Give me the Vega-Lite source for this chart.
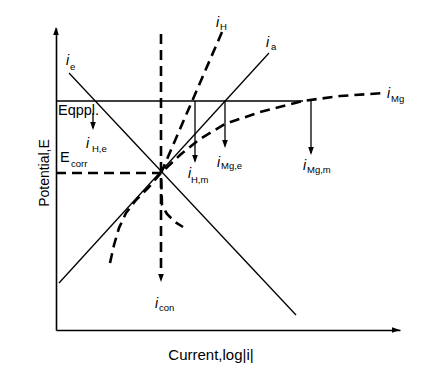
{
  "$schema": "https://vega.github.io/schema/vega-lite/v6.json",
  "width": 344,
  "height": 302,
  "autosize": {"type": "none"},
  "padding": {"left": 56, "top": 28, "right": 35, "bottom": 40},
  "background": "white",
  "config": {
    "view": {"stroke": null},
    "axis": {"grid": false, "ticks": false, "labels": false, "domainColor": "black", "domainWidth": 1.6, "titleColor": "black", "titleFont": "Liberation Sans", "titleFontWeight": "normal"}
  },
  "datasets": {
    "lines": [
      {"id": "ia", "ord": 0, "x": 3, "y": 47, "style": "solid"},
      {"id": "ia", "ord": 1, "x": 213, "y": 277, "style": "solid"},
      {"id": "ie", "ord": 0, "x": 13, "y": 257, "style": "solid"},
      {"id": "ie", "ord": 1, "x": 240, "y": 15, "style": "solid"},
      {"id": "Eappl", "ord": 0, "x": 0, "y": 229, "style": "solid"},
      {"id": "Eappl", "ord": 1, "x": 247, "y": 229, "style": "solid"},
      {"id": "aHe", "ord": 0, "x": 37, "y": 217, "style": "solid"},
      {"id": "aHe", "ord": 1, "x": 37, "y": 202, "style": "solid"},
      {"id": "aHm", "ord": 0, "x": 139, "y": 229, "style": "solid"},
      {"id": "aHm", "ord": 1, "x": 139, "y": 169, "style": "solid"},
      {"id": "aMge", "ord": 0, "x": 169, "y": 229, "style": "solid"},
      {"id": "aMge", "ord": 1, "x": 169, "y": 184, "style": "solid"},
      {"id": "aMgm", "ord": 0, "x": 255, "y": 230, "style": "solid"},
      {"id": "aMgm", "ord": 1, "x": 255, "y": 177, "style": "solid"},
      {"id": "Ecorr", "ord": 0, "x": 0, "y": 157, "style": "dashed"},
      {"id": "Ecorr", "ord": 1, "x": 105, "y": 157, "style": "dashed"},
      {"id": "icon", "ord": 0, "x": 105, "y": 296, "style": "dashed"},
      {"id": "icon", "ord": 1, "x": 105, "y": 54, "style": "dashed"},
      {"id": "iMg", "ord": 0, "x": 54, "y": 67, "style": "dashed"},
      {"id": "iMg", "ord": 1, "x": 58, "y": 85, "style": "dashed"},
      {"id": "iMg", "ord": 2, "x": 63, "y": 102, "style": "dashed"},
      {"id": "iMg", "ord": 3, "x": 70, "y": 117, "style": "dashed"},
      {"id": "iMg", "ord": 4, "x": 80, "y": 130, "style": "dashed"},
      {"id": "iMg", "ord": 5, "x": 92, "y": 142, "style": "dashed"},
      {"id": "iMg", "ord": 6, "x": 105, "y": 157, "style": "dashed"},
      {"id": "iMg", "ord": 7, "x": 124, "y": 175, "style": "dashed"},
      {"id": "iMg", "ord": 8, "x": 144, "y": 191, "style": "dashed"},
      {"id": "iMg", "ord": 9, "x": 169, "y": 206, "style": "dashed"},
      {"id": "iMg", "ord": 10, "x": 204, "y": 218, "style": "dashed"},
      {"id": "iMg", "ord": 11, "x": 247, "y": 229, "style": "dashed"},
      {"id": "iMg", "ord": 12, "x": 284, "y": 234, "style": "dashed"},
      {"id": "iMg", "ord": 13, "x": 329, "y": 237, "style": "dashed"},
      {"id": "iH", "ord": 0, "x": 166, "y": 298, "style": "dashed"},
      {"id": "iH", "ord": 1, "x": 105, "y": 157, "style": "dashed"},
      {"id": "iH", "ord": 2, "x": 106, "y": 125, "style": "dashed"},
      {"id": "iH", "ord": 3, "x": 111, "y": 116, "style": "dashed"},
      {"id": "iH", "ord": 4, "x": 119, "y": 108, "style": "dashed"},
      {"id": "iH", "ord": 5, "x": 127, "y": 103, "style": "dashed"}
    ],
    "heads": [
      {"x": 37, "y": 204, "dir": "M-0.7,-1L0.7,-1L0,1Z"},
      {"x": 139, "y": 171, "dir": "M-0.7,-1L0.7,-1L0,1Z"},
      {"x": 169, "y": 186, "dir": "M-0.7,-1L0.7,-1L0,1Z"},
      {"x": 255, "y": 179, "dir": "M-0.7,-1L0.7,-1L0,1Z"},
      {"x": 105, "y": 52, "dir": "M-0.7,-1L0.7,-1L0,1Z"},
      {"x": 0, "y": 299, "dir": "M-0.7,1L0.7,1L0,-1Z"},
      {"x": 340, "y": 0, "dir": "M-1,-0.7L-1,0.7L1,0Z"}
    ],
    "ilabels": [
      {"x": 10, "y": 265, "t": "i"},
      {"x": 160, "y": 303, "t": "i"},
      {"x": 210, "y": 283, "t": "i"},
      {"x": 331, "y": 232, "t": "i"},
      {"x": 30, "y": 182, "t": "i"},
      {"x": 132, "y": 152, "t": "i"},
      {"x": 161, "y": 163, "t": "i"},
      {"x": 247, "y": 160, "t": "i"},
      {"x": 99, "y": 22, "t": "i"}
    ],
    "subs": [
      {"x": 14, "y": 260, "t": "e"},
      {"x": 164, "y": 300, "t": "H"},
      {"x": 215, "y": 280, "t": "a"},
      {"x": 335, "y": 228, "t": "Mg"},
      {"x": 36, "y": 178, "t": "H,e"},
      {"x": 135, "y": 147, "t": "H,m"},
      {"x": 165, "y": 161, "t": "Mg,e"},
      {"x": 251, "y": 157, "t": "Mg,m"},
      {"x": 103, "y": 19, "t": "con"},
      {"x": 15, "y": 163, "t": "corr"}
    ],
    "plain": [
      {"x": 4, "y": 168, "t": "E"},
      {"x": 2, "y": 215, "t": "Eqppl."}
    ]
  },
  "layer": [
    {
      "data": {"name": "lines"},
      "transform": [{"filter": "datum.style === 'solid'"}],
      "mark": {"type": "line", "color": "black", "strokeWidth": 1.3},
      "encoding": {
        "x": {"field": "x", "type": "quantitative", "scale": {"domain": [0, 344], "nice": false, "zero": false}, "axis": {"title": "Current,log|i|", "titleFontSize": 15, "titleX": 154.5, "titleY": 29, "titleBaseline": "alphabetic", "titleAlign": "center"}},
        "y": {"field": "y", "type": "quantitative", "scale": {"domain": [0, 302], "nice": false, "zero": false}, "axis": {"title": "Potential,E", "titleFontSize": 14, "titleX": -8, "titleY": 144.5, "titleAngle": -90, "titleBaseline": "alphabetic", "titleAlign": "center"}},
        "detail": {"field": "id"},
        "order": {"field": "ord"}
      }
    },
    {
      "data": {"name": "lines"},
      "transform": [{"filter": "datum.style === 'dashed'"}],
      "mark": {"type": "line", "color": "black", "strokeWidth": 2.6, "strokeDash": [10, 6]},
      "encoding": {
        "x": {"field": "x", "type": "quantitative"},
        "y": {"field": "y", "type": "quantitative"},
        "detail": {"field": "id"},
        "order": {"field": "ord"}
      }
    },
    {
      "data": {"name": "heads"},
      "mark": {"type": "point", "filled": true, "color": "black", "size": 64, "opacity": 1},
      "encoding": {
        "x": {"field": "x", "type": "quantitative"},
        "y": {"field": "y", "type": "quantitative"},
        "shape": {"field": "dir", "type": "nominal", "scale": null}
      }
    },
    {
      "data": {"name": "ilabels"},
      "mark": {"type": "text", "align": "left", "baseline": "alphabetic", "font": "Liberation Sans", "fontSize": 14, "fontStyle": "italic", "color": "black"},
      "encoding": {
        "x": {"field": "x", "type": "quantitative"},
        "y": {"field": "y", "type": "quantitative"},
        "text": {"field": "t"}
      }
    },
    {
      "data": {"name": "subs"},
      "mark": {"type": "text", "align": "left", "baseline": "alphabetic", "font": "Liberation Sans", "fontSize": 9.5, "color": "black"},
      "encoding": {
        "x": {"field": "x", "type": "quantitative"},
        "y": {"field": "y", "type": "quantitative"},
        "text": {"field": "t"}
      }
    },
    {
      "data": {"name": "plain"},
      "mark": {"type": "text", "align": "left", "baseline": "alphabetic", "font": "Liberation Sans", "fontSize": 14.5, "color": "black"},
      "encoding": {
        "x": {"field": "x", "type": "quantitative"},
        "y": {"field": "y", "type": "quantitative"},
        "text": {"field": "t"}
      }
    }
  ]
}
